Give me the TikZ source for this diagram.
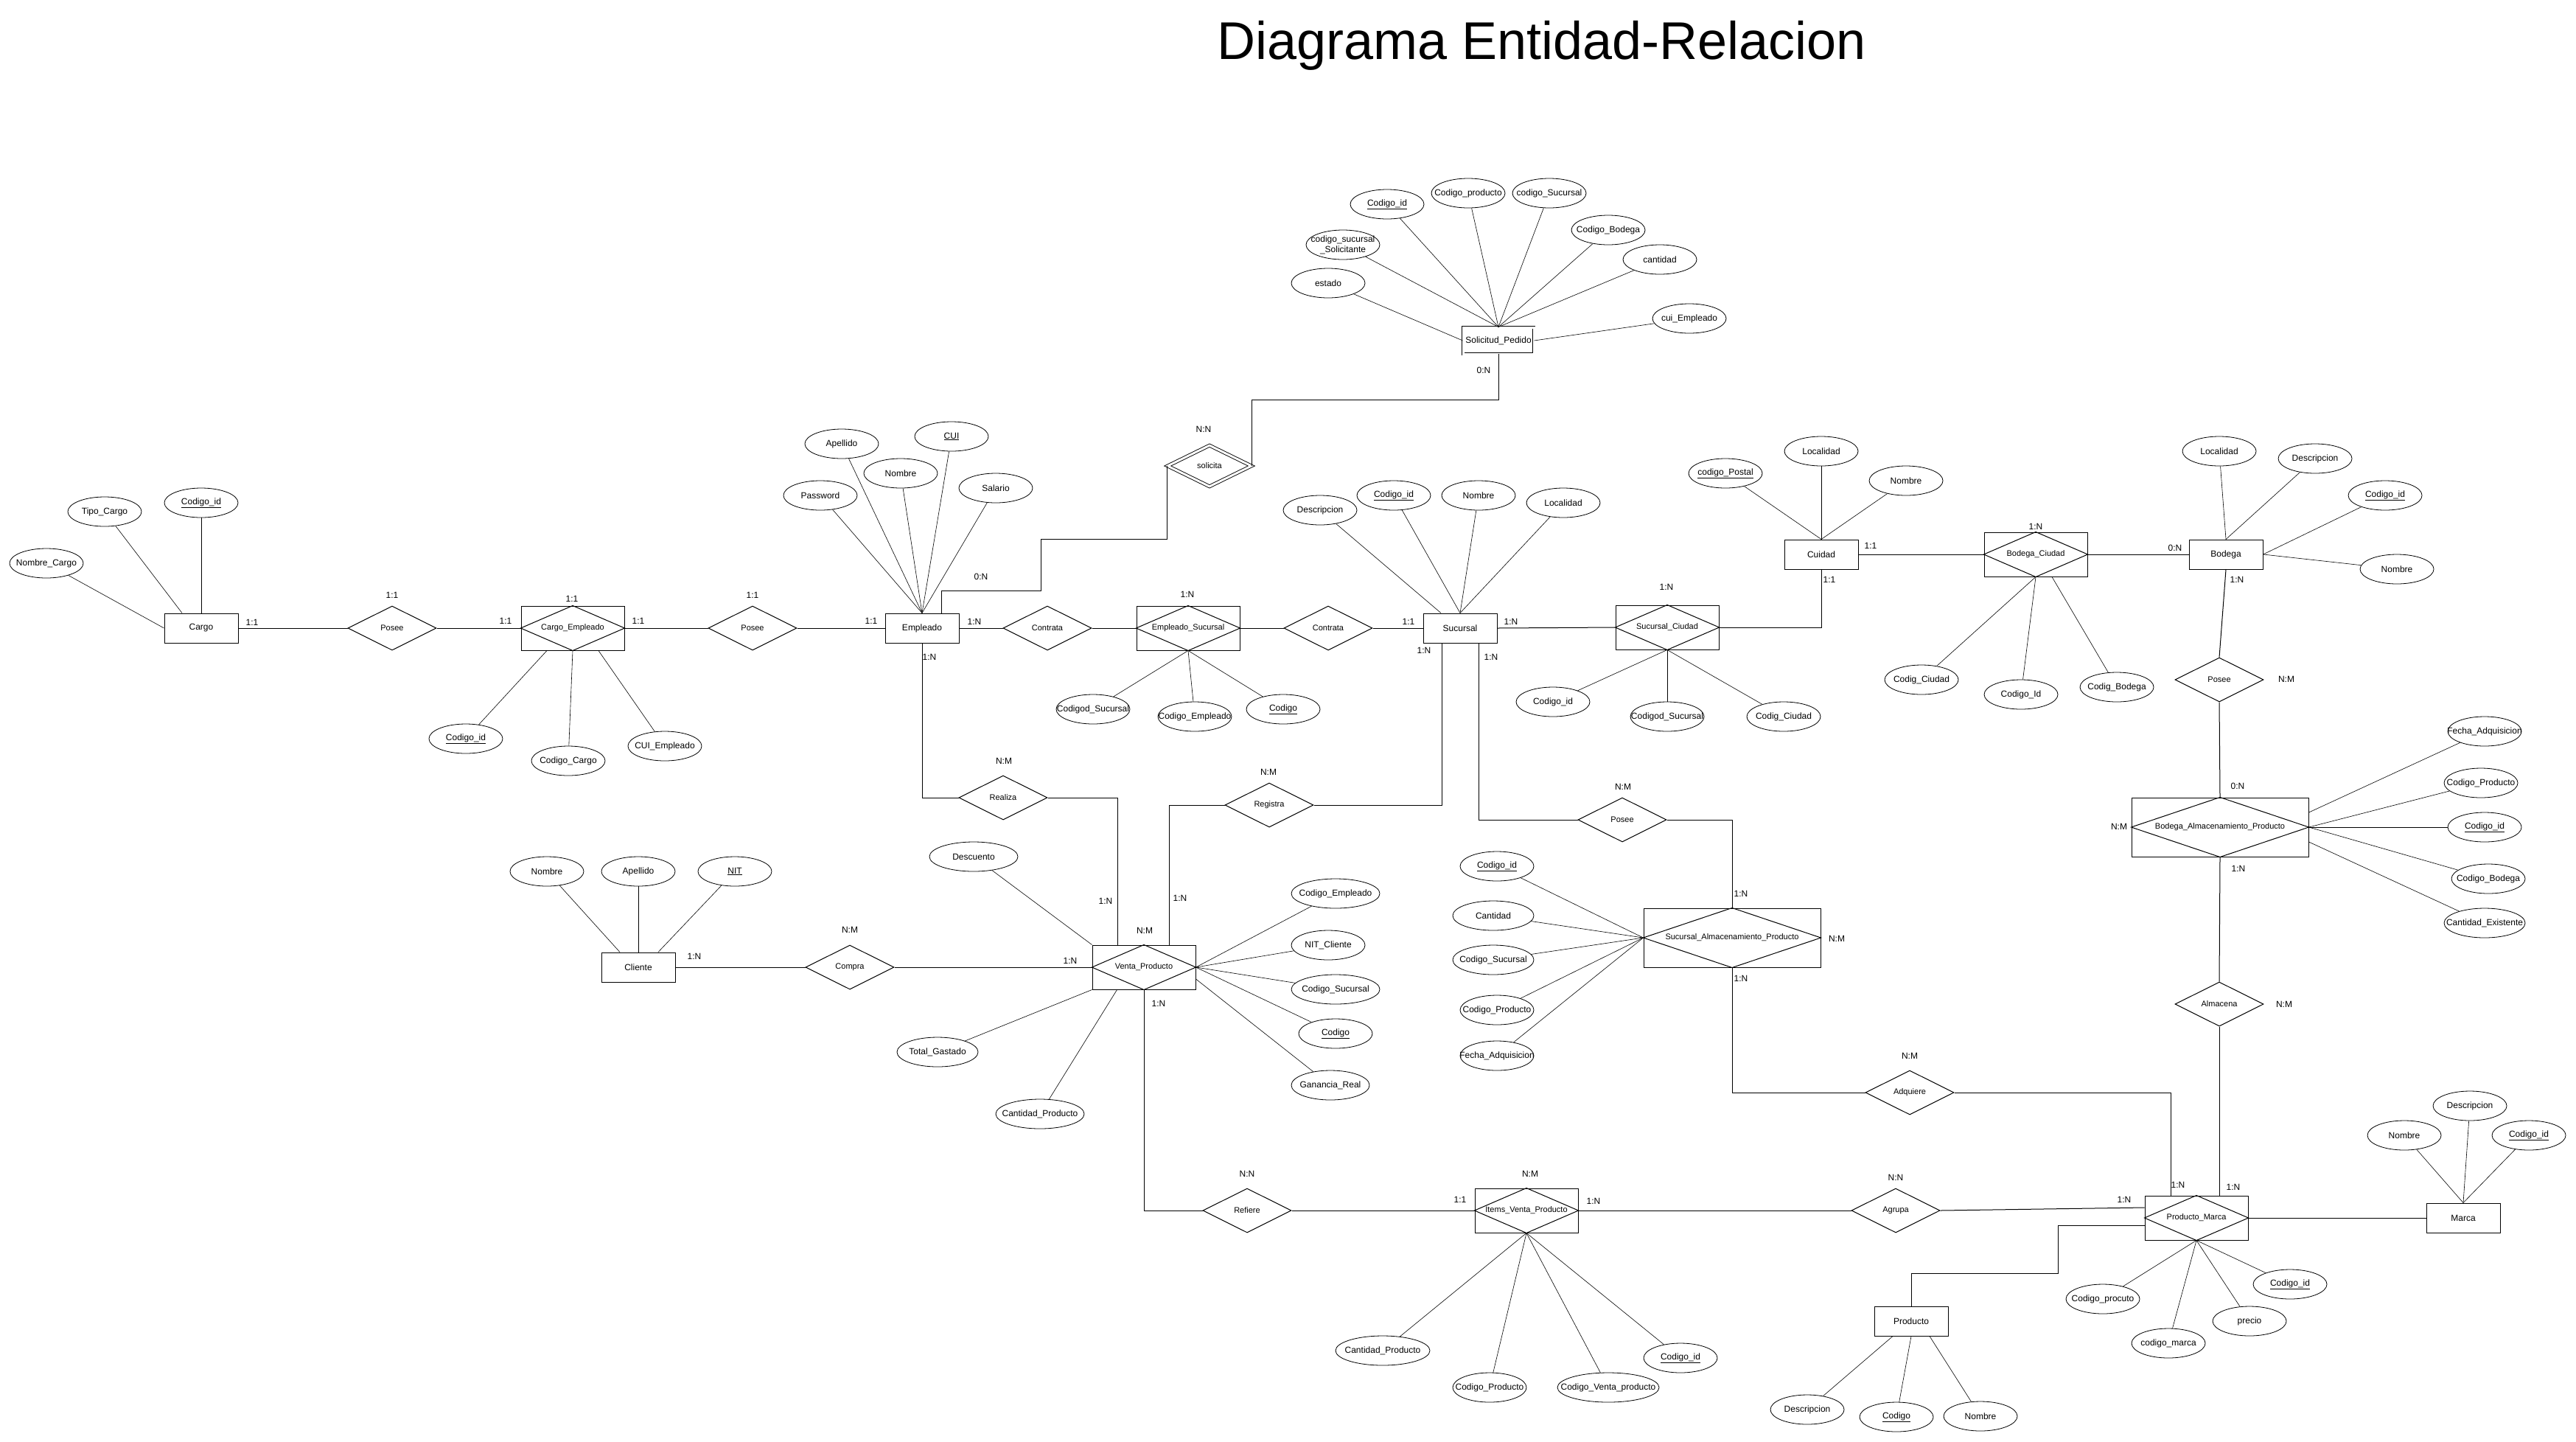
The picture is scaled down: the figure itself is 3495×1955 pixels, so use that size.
\documentclass[tikz,border=0pt]{standalone}
\usepackage{fontspec}
\setmainfont{Liberation Sans}
\usetikzlibrary{shapes.geometric}

\begin{document}
\begin{tikzpicture}[x=1pt, y=-1pt,
    base/.style={font=\fontsize{12}{14}\selectfont, inner sep=0pt,
      execute at begin node={\hbox to 0pt\bgroup\hss},
      execute at end node={\hss\egroup}},
    entidad/.style={base, draw, line width=1pt, rectangle, minimum width=100pt, minimum height=40pt},
    atributo/.style={base, draw, line width=0.8pt, ellipse, minimum width=100pt, minimum height=40pt},
    relacion/.style={base, draw, line width=1pt, diamond, minimum width=120pt, minimum height=60pt,
      font=\fontsize{11}{13}\selectfont},
    asociativa/.style={relacion, rectangle, minimum width=140pt},
    card/.style={font=\fontsize{12}{14}\selectfont, inner sep=0pt},
    enlace/.style={line width=1pt},
    linea/.style={line width=0.6pt}]
    \useasboundingbox (0,0) rectangle (3495,1955);

    \node[font=\fontsize{72}{80}\selectfont, anchor=base] (titulo) at (2092,80) {Diagrama Entidad-Relacion};

    % entidades
    \node[entidad] (cargo) at (273,852) {Cargo};
    \node[entidad] (empleado) at (1251,852) {Empleado};
    \node[entidad] (sucursal) at (1981,852) {Sucursal};
    \node[entidad] (cuidad) at (2471,752) {Cuidad};
    \node[entidad] (bodega) at (3020,752) {Bodega};
    \node[entidad] (cliente) at (866,1312) {Cliente};
    \node[entidad] (producto) at (2593,1792) {Producto};
    \node[entidad] (marca) at (3342,1652) {Marca};
    \node[entidad, double, double distance=3pt, line width=0.9pt, minimum width=96pt, minimum height=36pt]
      (solicitud) at (2033,462) {Solicitud\_Pedido};

    % entidades asociativas
    \node[asociativa] (cargoemp) at (777,852) {Cargo\_Empleado};
    \node[asociativa] (empsuc) at (1612,852) {Empleado\_Sucursal};
    \node[asociativa] (succiu) at (2262,851) {Sucursal\_Ciudad};
    \node[asociativa] (bodciu) at (2762,752) {Bodega\_Ciudad};
    \node[asociativa] (ventap) at (1552,1312) {Venta\_Producto};
    \node[asociativa, minimum width=240pt, minimum height=80pt] (sucalm) at (2350,1272) {Sucursal\_Almacenamiento\_Producto};
    \node[asociativa, minimum width=240pt, minimum height=80pt] (bodalm) at (3012,1122) {Bodega\_Almacenamiento\_Producto};
    \node[asociativa] (items) at (2071,1642) {Items\_Venta\_Producto};
    \node[asociativa] (prodmarca) at (2980,1652) {Producto\_Marca};
    \foreach \n in {cargoemp,empsuc,succiu,bodciu,ventap,sucalm,bodalm,items,prodmarca}
      \draw[line width=1pt] (\n.north) -- (\n.east) -- (\n.south) -- (\n.west) -- cycle;

    % relaciones
    \node[relacion] (posee1) at (532,852) {Posee};
    \node[relacion] (posee2) at (1021,852) {Posee};
    \node[relacion] (contrata1) at (1421,852) {Contrata};
    \node[relacion] (contrata2) at (1802,852) {Contrata};
    \node[relacion, double, double distance=3pt, line width=0.9pt, minimum width=114pt, minimum height=56pt]
      (solicita) at (1641,632) {solicita};
    \node[relacion] (posee3) at (3011,922) {Posee};
    \node[relacion] (almacena) at (3011,1362) {Almacena};
    \node[relacion] (realiza) at (1361,1082) {Realiza};
    \node[relacion] (registra) at (1722,1092) {Registra};
    \node[relacion] (compra) at (1153,1312) {Compra};
    \node[relacion] (posee4) at (2201,1112) {Posee};
    \node[relacion] (adquiere) at (2591,1482) {Adquiere};
    \node[relacion] (refiere) at (1692,1642) {Refiere};
    \node[relacion] (agrupa) at (2572,1642) {Agrupa};

    % atributos
    \node[atributo] (cargoId) at (273,682) {\underline{Codigo\_id}};
    \node[atributo] (tipoCargo) at (142,694) {Tipo\_Cargo};
    \node[atributo] (nombreCargo) at (63,764) {Nombre\_Cargo};
    \node[atributo] (ceId) at (632,1002) {\underline{Codigo\_id}};
    \node[atributo] (ceCargo) at (771,1032) {Codigo\_Cargo};
    \node[atributo] (ceCui) at (902,1012) {CUI\_Empleado};
    \node[atributo] (empApellido) at (1142,602) {Apellido};
    \node[atributo] (empCui) at (1291,592) {\underline{CUI}};
    \node[atributo] (empNombre) at (1222,642) {Nombre};
    \node[atributo] (empSalario) at (1351,662) {Salario};
    \node[atributo] (empPassword) at (1113,672) {Password};
    \node[atributo] (esSucursal) at (1483,962) {Codigod\_Sucursal};
    \node[atributo] (esEmpleado) at (1621,972) {Codigo\_Empleado};
    \node[atributo] (esCodigo) at (1741,962) {\underline{Codigo}};
    \node[atributo] (sucDescripcion) at (1791,692) {Descripcion};
    \node[atributo] (sucId) at (1891,672) {\underline{Codigo\_id}};
    \node[atributo] (sucNombre) at (2006,672) {Nombre};
    \node[atributo] (sucLocalidad) at (2121,682) {Localidad};
    \node[atributo] (scId) at (2107,952) {Codigo\_id};
    \node[atributo] (scSucursal) at (2262,972) {Codigod\_Sucursal};
    \node[atributo] (scCiudad) at (2420,972) {Codig\_Ciudad};
    \node[atributo] (ciuPostal) at (2341,642) {\underline{codigo\_Postal}};
    \node[atributo] (ciuLocalidad) at (2471,612) {Localidad};
    \node[atributo] (ciuNombre) at (2586,652) {Nombre};
    \node[atributo] (bcCiudad) at (2607,922) {Codig\_Ciudad};
    \node[atributo] (bcId) at (2742,942) {Codigo\_Id};
    \node[atributo] (bcBodega) at (2872,932) {Codig\_Bodega};
    \node[atributo] (bodLocalidad) at (3011,612) {Localidad};
    \node[atributo] (bodDescripcion) at (3141,622) {Descripcion};
    \node[atributo] (bodId) at (3236,672) {\underline{Codigo\_id}};
    \node[atributo] (bodNombre) at (3252,772) {Nombre};
    \node[atributo] (baFecha) at (3371,992) {Fecha\_Adquisicion};
    \node[atributo] (baProducto) at (3366,1062) {Codigo\_Producto};
    \node[atributo] (baId) at (3371,1122) {\underline{Codigo\_id}};
    \node[atributo] (baBodega) at (3376,1192) {Codigo\_Bodega};
    \node[atributo, minimum width=110pt] (baCantidad) at (3371,1252) {Cantidad\_Existente};
    \node[atributo] (saId) at (2031,1175) {\underline{Codigo\_id}};
    \node[atributo, minimum width=110pt] (saCantidad) at (2026,1242) {Cantidad};
    \node[atributo, minimum width=110pt] (saSucursal) at (2026,1302) {Codigo\_Sucursal};
    \node[atributo] (saProducto) at (2031,1370) {Codigo\_Producto};
    \node[atributo] (saFecha) at (2031,1432) {Fecha\_Adquisicion};
    \node[atributo] (cliNombre) at (742,1182) {Nombre};
    \node[atributo] (cliApellido) at (866,1182) {Apellido};
    \node[atributo] (cliNit) at (997,1182) {\underline{NIT}};
    \node[atributo, minimum width=120pt] (vpDescuento) at (1321,1162) {Descuento};
    \node[atributo, minimum width=110pt] (vpTotal) at (1272,1427) {Total\_Gastado};
    \node[atributo, minimum width=120pt] (vpCantidad) at (1411,1511) {Cantidad\_Producto};
    \node[atributo, minimum width=120pt] (vpEmpleado) at (1812,1212) {Codigo\_Empleado};
    \node[atributo] (vpNit) at (1802,1282) {NIT\_Cliente};
    \node[atributo, minimum width=120pt] (vpSucursal) at (1812,1342) {Codigo\_Sucursal};
    \node[atributo] (vpCodigo) at (1812,1402) {\underline{Codigo}};
    \node[atributo, minimum width=106pt] (vpGanancia) at (1805,1472) {Ganancia\_Real};
    \node[atributo] (spId) at (1882,277) {\underline{Codigo\_id}};
    \node[atributo] (spProducto) at (1992,262) {Codigo\_producto};
    \node[atributo] (spSucursal) at (2102,262) {codigo\_Sucursal};
    \node[atributo] (spBodega) at (2182,312) {Codigo\_Bodega};
    \node[atributo] (spCantidad) at (2252,352) {cantidad};
    \node[atributo] (spCui) at (2292,432) {cui\_Empleado};
    \node[atributo] (spSolicitante) at (1822,332) {\shortstack{codigo\_sucursal\\\_Solicitante}};
    \node[atributo] (spEstado) at (1802,384) {estado};
    \node[atributo, minimum width=128pt] (ivCantidad) at (1876,1832) {Cantidad\_Producto};
    \node[atributo] (ivProducto) at (2021,1882) {Codigo\_Producto};
    \node[atributo, minimum width=138pt] (ivVenta) at (2182,1882) {Codigo\_Venta\_producto};
    \node[atributo] (ivId) at (2280,1842) {\underline{Codigo\_id}};
    \node[atributo] (proDescripcion) at (2452,1912) {Descripcion};
    \node[atributo] (proCodigo) at (2573,1922) {\underline{Codigo}};
    \node[atributo] (proNombre) at (2687,1921) {Nombre};
    \node[atributo] (pmProducto) at (2853,1762) {Codigo\_procuto};
    \node[atributo] (pmMarca) at (2942,1822) {codigo\_marca};
    \node[atributo] (pmPrecio) at (3052,1792) {precio};
    \node[atributo] (pmId) at (3107,1742) {\underline{Codigo\_id}};
    \node[atributo] (marNombre) at (3262,1540) {Nombre};
    \node[atributo] (marDescripcion) at (3351,1500) {Descripcion};
    \node[atributo] (marId) at (3431,1540) {\underline{Codigo\_id}};

    % puntos de union desplazados
    \coordinate (cargoT) at ([xshift=-26pt]cargo.north);
    \coordinate (ceSL) at ([xshift=-35pt]cargoemp.south);
    \coordinate (ceSR) at ([xshift=35pt]cargoemp.south);
    \coordinate (sucT) at ([xshift=-26pt]sucursal.north);
    \coordinate (bcSR) at ([xshift=22pt]bodciu.south);
    \coordinate (baEU) at ([yshift=20pt]bodalm.east);
    \coordinate (baED) at ([yshift=-20pt]bodalm.east);
    \coordinate (cliTL) at ([xshift=-25pt]cliente.north);
    \coordinate (cliTR) at ([xshift=27pt]cliente.north);
    \coordinate (vpSL) at ([xshift=34pt]ventap.south west);
    \coordinate (vpED) at ([yshift=-16pt]ventap.east);
    \coordinate (proSL) at ([xshift=-25pt]producto.south);
    \coordinate (proSR) at ([xshift=25pt]producto.south);

    % lineas de atributos
    \foreach \a/\b in {nombreCargo/cargo.west, tipoCargo/cargoT, cargoId/cargo.north,
        ceId/ceSL, ceCargo/cargoemp.south, ceCui/ceSR,
        empPassword/empleado.north, empApellido/empleado.north, empNombre/empleado.north,
        empCui/empleado.north, empSalario/empleado.north,
        esSucursal/empsuc.south, esEmpleado/empsuc.south, esCodigo/empsuc.south,
        sucDescripcion/sucT, sucId/sucursal.north, sucNombre/sucursal.north, sucLocalidad/sucursal.north,
        scId/succiu.south, scSucursal/succiu.south, scCiudad/succiu.south,
        ciuPostal/cuidad.north, ciuLocalidad/cuidad.north, ciuNombre/cuidad.north,
        bcCiudad/bodciu.south, bcId/bodciu.south, bcBodega/bcSR,
        bodLocalidad/bodega.north, bodDescripcion/bodega.north, bodId/bodega.east, bodNombre/bodega.east,
        baFecha/baEU, baProducto/bodalm.east, baId/bodalm.east, baBodega/bodalm.east, baCantidad/baED,
        saId/sucalm.west, saCantidad/sucalm.west, saSucursal/sucalm.west, saProducto/sucalm.west, saFecha/sucalm.west,
        cliNombre/cliTL, cliApellido/cliente.north, cliNit/cliTR,
        vpDescuento/ventap.north west, vpTotal/ventap.south west, vpCantidad/vpSL,
        vpEmpleado/ventap.east, vpNit/ventap.east, vpSucursal/ventap.east, vpCodigo/ventap.east, vpGanancia/vpED,
        spEstado/solicitud.west, spSolicitante/solicitud.north, spId/solicitud.north, spProducto/solicitud.north,
        spSucursal/solicitud.north, spBodega/solicitud.north, spCantidad/solicitud.north, spCui/solicitud.east,
        ivCantidad/items.south, ivProducto/items.south, ivVenta/items.south, ivId/items.south,
        proDescripcion/proSL, proCodigo/producto.south, proNombre/proSR,
        pmProducto/prodmarca.south, pmMarca/prodmarca.south, pmPrecio/prodmarca.south, pmId/prodmarca.south,
        marNombre/marca.north, marDescripcion/marca.north, marId/marca.north}
      \draw[linea] (\a) -- (\b);

    % conexiones
    \draw[enlace] (cargo.east) -- (posee1.west);
    \draw[enlace] (posee1.east) -- (cargoemp.west);
    \draw[enlace] (cargoemp.east) -- (posee2.west);
    \draw[enlace] (posee2.east) -- (empleado.west);
    \draw[enlace] (empleado.east) -- (contrata1.west);
    \draw[enlace] (contrata1.east) -- (empsuc.west);
    \draw[enlace] (empsuc.east) -- (contrata2.west);
    \draw[enlace] (contrata2.east) -- (sucursal.west);
    \draw[enlace] (sucursal.east) -- (succiu.west);
    \draw[enlace] (succiu.east) -| (cuidad.south);
    \draw[enlace] (cuidad.east) -- (bodciu.west);
    \draw[enlace] (bodciu.east) -- (bodega.west);
    \draw[enlace] (bodega.south) -- (posee3.north);
    \draw[enlace] (posee3.south) -- (bodalm.north);
    \draw[enlace] (bodalm.south) -- (almacena.north);
    \draw[enlace] (almacena.south) -- (almacena.south |- prodmarca.north);
    \draw[enlace] ([xshift=26pt]empleado.north) -- ++(0,-30) -| ++(135,-70) -| (solicita.west);
    \draw[enlace] (solicita.east) -- ++(0,-90) -| (solicitud.south);
    \draw[enlace] (empleado.south) |- (realiza.west);
    \draw[enlace] (realiza.east) -| ([xshift=-36pt]ventap.north);
    \draw[enlace] (registra.west) -| ([xshift=34pt]ventap.north);
    \draw[enlace] ([xshift=-25pt]sucursal.south) |- (registra.east);
    \draw[enlace] ([xshift=25pt]sucursal.south) |- (posee4.west);
    \draw[enlace] (posee4.east) -| (sucalm.north);
    \draw[enlace] (sucalm.south) |- (adquiere.west);
    \draw[enlace] (adquiere.east) -| ([xshift=-35pt]prodmarca.north);
    \draw[enlace] (cliente.east) -- (compra.west);
    \draw[enlace] (compra.east) -- (ventap.west);
    \draw[enlace] (ventap.south) |- (refiere.west);
    \draw[enlace] (refiere.east) -- (items.west);
    \draw[enlace] (items.east) -- (agrupa.west);
    \draw[enlace] (agrupa.east) -- ([yshift=14pt]prodmarca.west);
    \draw[enlace] ([yshift=-10pt]prodmarca.west) -| ++(-117,65) -| (producto.north);
    \draw[enlace] (prodmarca.east) -- (marca.west);

    % cardinalidades
    \foreach \x/\y/\t [count=\i] in {342/844/1:1, 532/807/1:1, 686/842/1:1, 776/812/1:1, 866/842/1:1,
        1021/807/1:1, 1182/842/1:1, 1322/843/1:N, 1331/782/0:N, 1633/582/N:N, 2013/502/0:N,
        1611/806/1:N, 1911/843/1:1, 1932/882/1:N, 2050/843/1:N, 2023/891/1:N, 2261/796/1:N,
        2538/740/1:1, 2482/786/1:1, 2762/714/1:N, 2951/743/0:N, 3035/786/1:N, 3102/921/N:M,
        3036/1066/0:N, 2875/1121/N:M, 3037/1178/1:N, 3099/1362/N:M, 1261/891/1:N,
        1362/1032/N:M, 1721/1047/N:M, 1500/1222/1:N, 1601/1218/1:N, 942/1297/1:N,
        1153/1261/N:M, 1452/1303/1:N, 1553/1262/N:M, 1572/1361/1:N, 2202/1067/N:M,
        2362/1212/1:N, 2492/1273/N:M, 2362/1327/1:N, 2591/1432/N:M, 1692/1592/N:N,
        2076/1592/N:M, 1981/1627/1:1, 2162/1629/1:N, 2572/1597/N:N, 2955/1607/1:N,
        3030/1610/1:N, 2882/1627/1:N}
      \node[card] (card\i) at (\x,\y) {\t};
\end{tikzpicture}
\end{document}
